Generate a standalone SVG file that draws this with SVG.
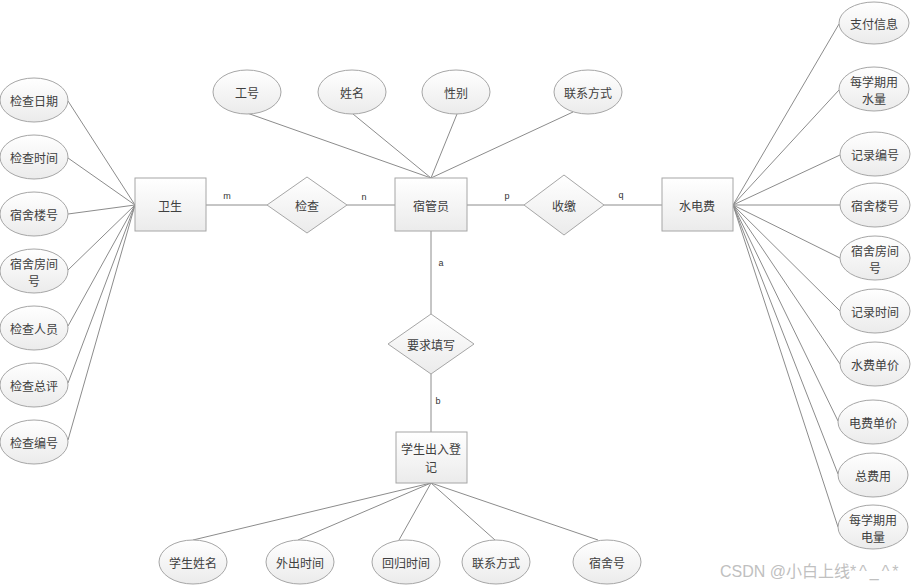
<svg xmlns="http://www.w3.org/2000/svg" width="911" height="585" viewBox="0 0 911 585">
<defs>
<linearGradient id="g" x1="0" y1="0" x2="0" y2="1">
<stop offset="0" stop-color="#ffffff"/>
<stop offset="1" stop-color="#ebebeb"/>
</linearGradient>
<style>
.sh{fill:url(#g);stroke:#a6a6a6;stroke-width:1}
.ln{stroke:#8c8c8c;stroke-width:1;fill:none}
.t{font-family:"Noto Sans CJK SC","Liberation Serif",serif;font-size:12px;fill:#404040;text-anchor:middle;dominant-baseline:central}
.c{font-family:"Liberation Sans",sans-serif;font-size:9px;fill:#333;text-anchor:middle;dominant-baseline:central}
.wm{font-family:"Liberation Sans","Noto Sans CJK SC",sans-serif;font-size:16px;fill:#c0c0c0}
</style>
</defs>
<rect width="911" height="585" fill="#fff"/>
<g id="connectors">
<line class="ln" x1="68" y1="101" x2="135" y2="205"/>
<line class="ln" x1="68" y1="158" x2="135" y2="205"/>
<line class="ln" x1="68" y1="214" x2="135" y2="205"/>
<line class="ln" x1="68" y1="270" x2="135" y2="205"/>
<line class="ln" x1="68" y1="326" x2="135" y2="205"/>
<line class="ln" x1="68" y1="383" x2="135" y2="205"/>
<line class="ln" x1="68" y1="440" x2="135" y2="205"/>
<line class="ln" x1="206" y1="205" x2="267" y2="205"/>
<line class="ln" x1="347" y1="205" x2="395" y2="205"/>
<line class="ln" x1="467" y1="205" x2="524" y2="205"/>
<line class="ln" x1="604" y1="205" x2="662" y2="205"/>
<line class="ln" x1="247" y1="113" x2="431" y2="178"/>
<line class="ln" x1="353" y1="114" x2="431" y2="178"/>
<line class="ln" x1="457" y1="114" x2="431" y2="178"/>
<line class="ln" x1="573" y1="112" x2="431" y2="178"/>
<line class="ln" x1="431" y1="231" x2="431" y2="314"/>
<line class="ln" x1="431" y1="374" x2="431" y2="432"/>
<line class="ln" x1="431" y1="483" x2="193" y2="540"/>
<line class="ln" x1="431" y1="483" x2="298" y2="540"/>
<line class="ln" x1="431" y1="483" x2="399" y2="540"/>
<line class="ln" x1="431" y1="483" x2="495" y2="540"/>
<line class="ln" x1="431" y1="483" x2="598" y2="540"/>
<line class="ln" x1="733" y1="205" x2="839" y2="24"/>
<line class="ln" x1="733" y1="205" x2="839" y2="90"/>
<line class="ln" x1="733" y1="205" x2="840" y2="155"/>
<line class="ln" x1="733" y1="205" x2="840" y2="205"/>
<line class="ln" x1="733" y1="205" x2="840" y2="258"/>
<line class="ln" x1="733" y1="205" x2="840" y2="311"/>
<line class="ln" x1="733" y1="205" x2="840" y2="364"/>
<line class="ln" x1="733" y1="205" x2="838" y2="421"/>
<line class="ln" x1="733" y1="205" x2="838" y2="474"/>
<line class="ln" x1="733" y1="205" x2="838" y2="527"/>
<text class="c" x="227" y="196">m</text>
<text class="c" x="364" y="197">n</text>
<text class="c" x="507" y="196">p</text>
<text class="c" x="621" y="195">q</text>
<text class="c" x="441" y="263">a</text>
<text class="c" x="438" y="401">b</text>
</g>
<g id="e-jcrq"><ellipse class="sh" cx="34" cy="100" rx="34" ry="22"/><text class="t" x="34" y="100">检查日期</text></g>
<g id="e-jcsj"><ellipse class="sh" cx="34" cy="157" rx="34" ry="22"/><text class="t" x="34" y="157">检查时间</text></g>
<g id="e-sslh"><ellipse class="sh" cx="34" cy="214" rx="34" ry="22"/><text class="t" x="34" y="214">宿舍楼号</text></g>
<g id="e-ssfjh"><ellipse class="sh" cx="34" cy="271" rx="34" ry="22"/><text class="t" x="34" y="263">宿舍房间</text><text class="t" x="34" y="280">号</text></g>
<g id="e-jcry"><ellipse class="sh" cx="34" cy="328" rx="34" ry="22"/><text class="t" x="34" y="328">检查人员</text></g>
<g id="e-jczp"><ellipse class="sh" cx="34" cy="385" rx="34" ry="22"/><text class="t" x="34" y="385">检查总评</text></g>
<g id="e-jcbh"><ellipse class="sh" cx="34" cy="442" rx="34" ry="22"/><text class="t" x="34" y="442">检查编号</text></g>
<g id="weisheng"><rect class="sh" x="135" y="178" width="71" height="53"/><text class="t" x="170" y="205">卫生</text></g>
<g id="jiancha"><polygon class="sh" points="267,205 307,177 347,205 307,233"/><text class="t" x="307" y="205">检查</text></g>
<g id="suguanyuan"><rect class="sh" x="395" y="178" width="72" height="53"/><text class="t" x="431" y="205">宿管员</text></g>
<g id="e-gh"><ellipse class="sh" cx="247" cy="92" rx="34" ry="22"/><text class="t" x="247" y="92">工号</text></g>
<g id="e-xm"><ellipse class="sh" cx="352" cy="92" rx="34" ry="22"/><text class="t" x="352" y="92">姓名</text></g>
<g id="e-xb"><ellipse class="sh" cx="456" cy="92" rx="34" ry="22"/><text class="t" x="456" y="92">性别</text></g>
<g id="e-lxfs"><ellipse class="sh" cx="588" cy="92" rx="34" ry="22"/><text class="t" x="588" y="92">联系方式</text></g>
<g id="shoujiao"><polygon class="sh" points="524,205 564,175 604,205 564,235"/><text class="t" x="564" y="205">收缴</text></g>
<g id="shuidianfei"><rect class="sh" x="662" y="178" width="71" height="53"/><text class="t" x="697" y="205">水电费</text></g>
<g id="yaoqiutianxie"><polygon class="sh" points="388,344 431,314 474,344 431,374"/><text class="t" x="431" y="344">要求填写</text></g>
<g id="xscrdj"><rect class="sh" x="396" y="432" width="71" height="51"/><text class="t" x="431" y="448">学生出入登</text><text class="t" x="431" y="466">记</text></g>
<g id="e-xsxm"><ellipse class="sh" cx="193" cy="562" rx="34" ry="22"/><text class="t" x="193" y="562">学生姓名</text></g>
<g id="e-wcsj"><ellipse class="sh" cx="300" cy="562" rx="34" ry="22"/><text class="t" x="300" y="562">外出时间</text></g>
<g id="e-hgsj"><ellipse class="sh" cx="406" cy="562" rx="34" ry="22"/><text class="t" x="406" y="562">回归时间</text></g>
<g id="e-lxfs2"><ellipse class="sh" cx="496" cy="562" rx="34" ry="22"/><text class="t" x="496" y="562">联系方式</text></g>
<g id="e-ssh"><ellipse class="sh" cx="607" cy="562" rx="34" ry="22"/><text class="t" x="607" y="562">宿舍号</text></g>
<g id="e-zfxx"><ellipse class="sh" cx="874" cy="23" rx="35" ry="21"/><text class="t" x="874" y="23">支付信息</text></g>
<g id="e-sl"><ellipse class="sh" cx="874" cy="89" rx="35" ry="22"/><text class="t" x="874" y="81">每学期用</text><text class="t" x="874" y="98">水量</text></g>
<g id="e-jlbh"><ellipse class="sh" cx="875" cy="154" rx="35" ry="22"/><text class="t" x="875" y="154">记录编号</text></g>
<g id="e-sslh2"><ellipse class="sh" cx="875" cy="205" rx="35" ry="22"/><text class="t" x="875" y="205">宿舍楼号</text></g>
<g id="e-ssfjh2"><ellipse class="sh" cx="875" cy="258" rx="35" ry="22"/><text class="t" x="875" y="250">宿舍房间</text><text class="t" x="875" y="267">号</text></g>
<g id="e-jlsj"><ellipse class="sh" cx="875" cy="311" rx="35" ry="22"/><text class="t" x="875" y="311">记录时间</text></g>
<g id="e-sfdj"><ellipse class="sh" cx="875" cy="364" rx="35" ry="22"/><text class="t" x="875" y="364">水费单价</text></g>
<g id="e-dfdj"><ellipse class="sh" cx="873" cy="422" rx="35" ry="22"/><text class="t" x="873" y="422">电费单价</text></g>
<g id="e-zfy"><ellipse class="sh" cx="873" cy="475" rx="35" ry="22"/><text class="t" x="873" y="475">总费用</text></g>
<g id="e-dl"><ellipse class="sh" cx="873" cy="527" rx="35" ry="22"/><text class="t" x="873" y="519">每学期用</text><text class="t" x="873" y="536">电量</text></g>
<text class="wm" x="720" y="577">CSDN @小白上线<tspan letter-spacing="3">*^_^*</tspan></text>
</svg>
